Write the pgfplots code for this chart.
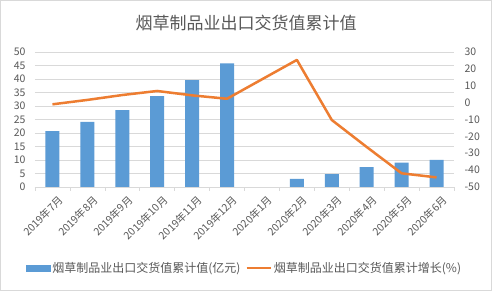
\documentclass[border=0pt]{standalone}
\usepackage{fontspec}
\setmainfont{Noto Sans CJK SC}
\usepackage{pgfplots}
\pgfplotsset{compat=1.18}
\definecolor{barblue}{HTML}{5B9BD5}
\definecolor{lineorange}{HTML}{ED7D31}
\definecolor{txtgray}{HTML}{595959}
\definecolor{gridgray}{HTML}{D9D9D9}
\begin{document}
\begin{tikzpicture}[x=1pt,y=1pt]
\useasboundingbox (-35,-104) rectangle (457,187);
\fill[white] (-35,-104) rectangle (457,187);
\draw[gridgray,line width=0.6pt] (-34.7,-103.7) rectangle (456.7,186.7);
\node[txtgray,font=\fontsize{17}{17}\selectfont] at (211,164) {烟草制品业出口交货值累计值};
\begin{axis}[
  scale only axis, width=419pt, height=135pt,
  xmin=-0.5, xmax=11.5, ymin=0, ymax=50,
  ytick={0,5,...,50},
  xtick={0,...,11},
  xticklabels={2019年7月,2019年8月,2019年9月,2019年10月,2019年11月,2019年12月,2020年1月,2020年2月,2020年3月,2020年4月,2020年5月,2020年6月},
  x tick label style={rotate=45, anchor=north east, font=\fontsize{10.5}{11}\selectfont, text=txtgray, inner sep=1pt, yshift=-8pt, xshift=-1pt},
  y tick label style={font=\fontsize{10.5}{10}\selectfont, text=txtgray, xshift=-6pt},
  /pgf/number format/assume math mode=true,
  minor xtick={-0.5,0.5,...,11.5},
  major tick length=0pt, minor tick length=4pt,
  tick style={gridgray, line width=0.6pt},
  tick align=outside,
  axis x line*=bottom, axis y line*=left,
  x axis line style={gridgray, line width=0.6pt, -},
  y axis line style={draw=none},
  ymajorgrids, grid style={gridgray, line width=0.6pt},
]
\addplot[ybar, bar width=14pt, fill=barblue, draw=none] coordinates {
(0,20.7) (1,24.1) (2,28.5) (3,33.7) (4,39.6) (5,45.8)
(7,3.0) (8,4.8) (9,7.4) (10,9.0) (11,10.0)};
\end{axis}
\begin{axis}[
  scale only axis, width=419pt, height=135pt,
  xmin=-0.5, xmax=11.5, ymin=-50, ymax=30,
  ytick={-50,-40,...,30},
  axis x line=none, axis y line*=right,
  y axis line style={draw=none},
  major tick length=0pt,
  y tick label style={font=\fontsize{10.5}{10}\selectfont, text=txtgray, xshift=7pt},
  /pgf/number format/assume math mode=true,
  legend style={draw=none, fill=none, at={(0.5,-0.6)}, anchor=center, font=\fontsize{12}{12}\selectfont, text=txtgray, /tikz/every even column/.append style={column sep=3pt}},
  legend columns=2,
]
\addlegendimage{legend image code/.code={\fill[barblue] (0pt,-3pt) rectangle (24pt,3pt);}}
\addlegendentry{烟草制品业出口交货值累计值(亿元)}
\addplot[lineorange, line width=2.5pt, line join=round, legend image code/.code={\draw[lineorange, line width=2.5pt] (0pt,0pt) -- (24pt,0pt);}] coordinates {
(0,-1) (1,1.6) (2,4.5) (3,6.9) (4,4.3) (5,2.3)
(7,25.3) (8,-10.3) (9,-26.3) (10,-41.9) (11,-44.3)};
\addlegendentry{烟草制品业出口交货值累计增长(\%)}
\end{axis}
\end{tikzpicture}
\end{document}
